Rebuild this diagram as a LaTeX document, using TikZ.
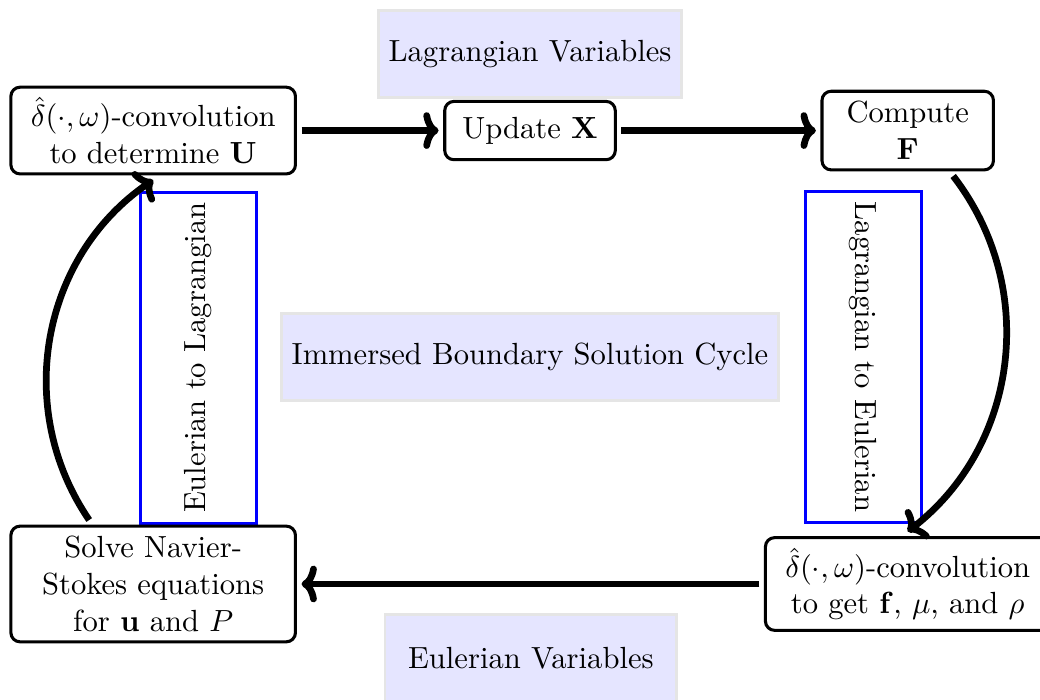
\documentclass[tikz,border=0pt]{standalone}
\usepackage{amsmath}
\usepackage{amssymb}
\usepackage{tikz}
\usetikzlibrary{arrows.meta}

\begin{document}
\begin{tikzpicture}[>={To[length=5pt, width=12pt]}]
        \useasboundingbox (0, 0) rectangle (11.95, -8.04);

        % shaded labels
        {\tikzstyle{every node}=[fill=blue!10, draw=black!10, thick, minimum height=1cm]
          \node (lagvars) at (6.09, -0.62) {Lagrangian Variables};
          \node (cycle) at (6.09, -4.1) {Immersed Boundary Solution Cycle};
          \node [minimum width=3.35cm] (eulvars) at (6.1, -7.56) {Eulerian Variables};
        }

        % transfer between the two grids
        {\tikzstyle{every node}=[draw=blue, line width=1pt, minimum height=1.34cm]
          \node [rotate=90] (eultolag) at (2.28, -4.11) {Eulerian to Lagrangian};
          \node [rotate=-90] (lagtoeul) at (9.92, -4.1) {Lagrangian to Eulerian};
        }

        % steps of the cycle
        {\tikzstyle{every node}=[draw, rounded corners=3pt, line width=1pt, align=center, outer sep=2pt]
          \node [minimum width=3.27cm] (interp) at (1.76, -1.5)
            {$\hat{\delta}(\cdot, \omega)$-convolution\\ to determine $\mathbf{U}$};
          \node [minimum width=1.96cm, minimum height=0.67cm] (update) at (6.09, -1.5)
            {Update $\mathbf{X}$};
          \node [minimum width=1.97cm] (force) at (10.43, -1.5)
            {Compute\\ $\mathbf{F}$};
          \node [minimum width=3.27cm] (spread) at (10.43, -6.71)
            {$\hat{\delta}(\cdot, \omega)$-convolution\\ to get $\mathbf{f}$, $\mu$, and $\rho$};
          \node [minimum width=3.27cm] (fluid) at (1.76, -6.71)
            {Solve Navier-\\ Stokes equations\\ for $\mathbf{u}$ and $P$};
        }

        \draw [->, line width=2.2pt]
          (interp) -- (update);
        \draw [->, line width=2.2pt]
          (update) -- (force);
        \draw [->, line width=2.2pt]
          (force.-45) to [bend left=45] (spread.north);
        \draw [->, line width=2.2pt]
          (spread) -- (fluid);
        \draw [->, line width=2.2pt]
          (fluid.135) to [bend left=45] (interp.south);
      \end{tikzpicture}
\end{document}
